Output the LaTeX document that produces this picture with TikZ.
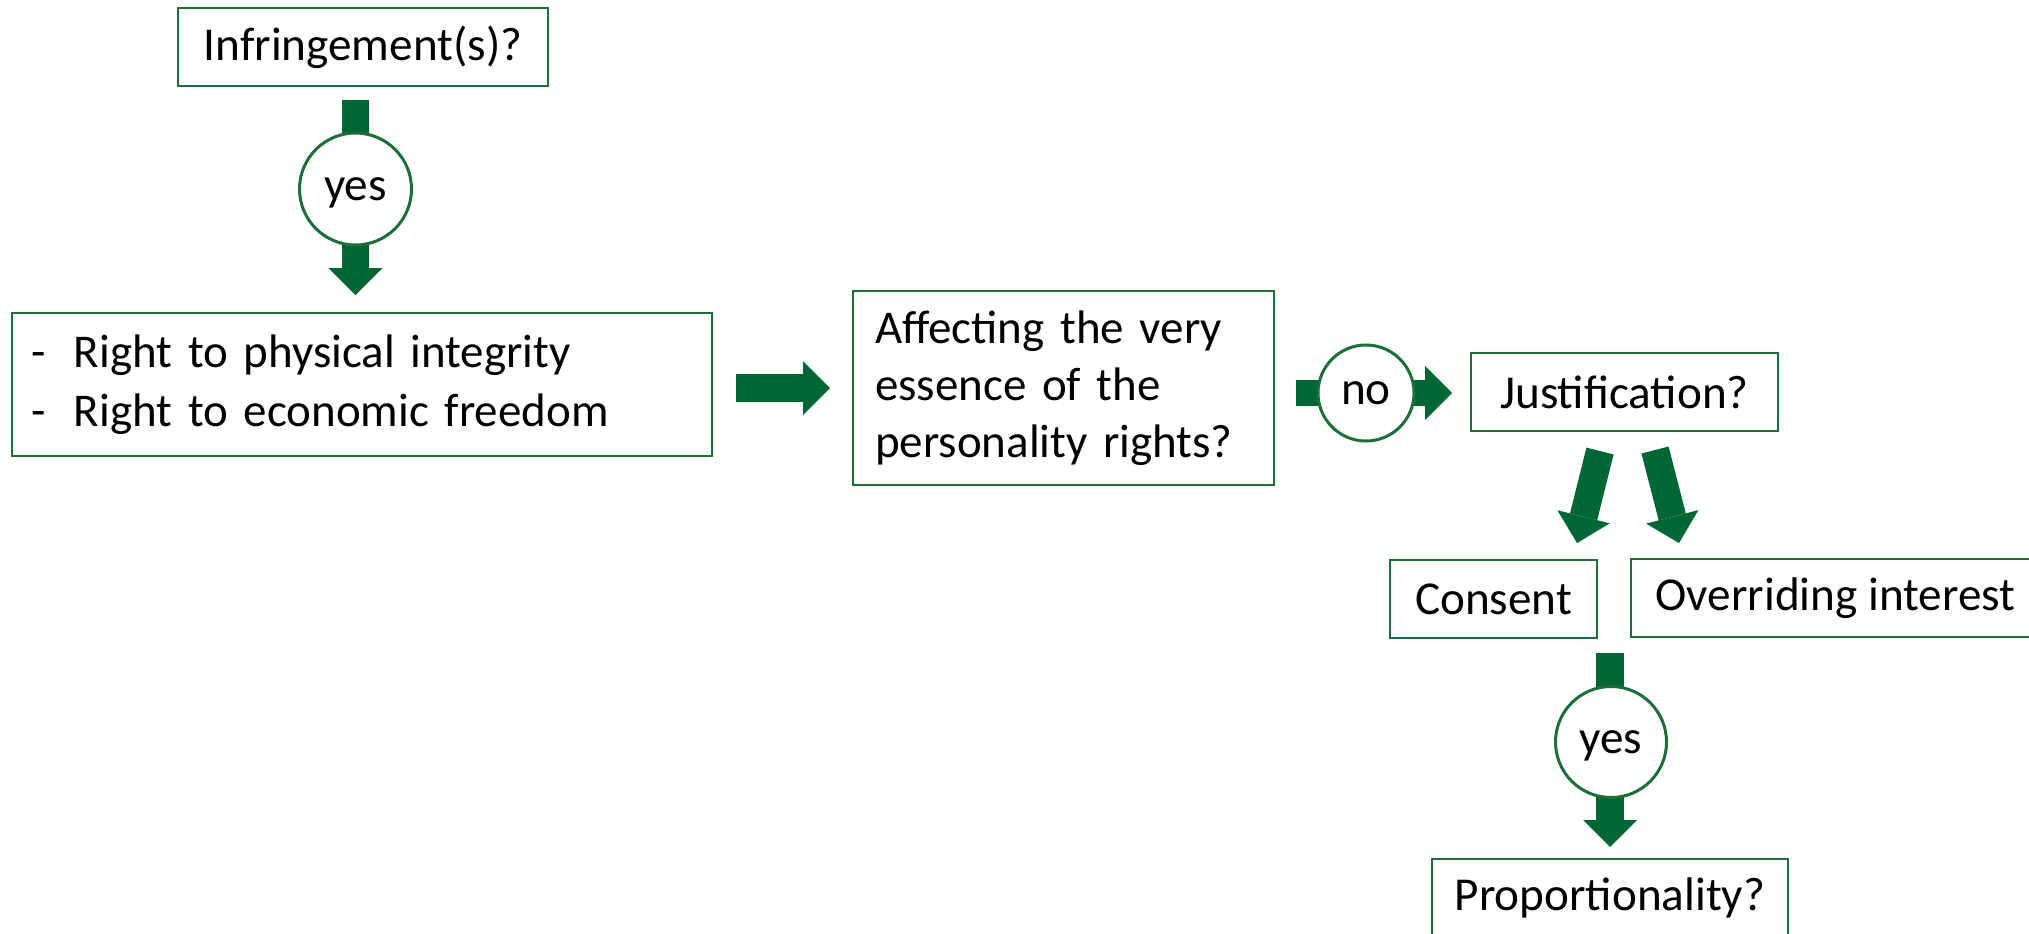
\documentclass[tikz,border=0pt]{standalone}
\usepackage{fontspec}
\setmainfont{Carlito}
\usetikzlibrary{arrows.meta,backgrounds}
\definecolor{arrowgreen}{RGB}{0,102,51}
\definecolor{boxgreen}{RGB}{30,110,58}
\begin{document}
\begin{tikzpicture}[x=0.5pt,y=-0.5pt,
  box/.style={draw=boxgreen,line width=1pt,inner sep=0pt,fill=white,font=\fontsize{23.6}{29}\selectfont},
  ring/.style={circle,draw=boxgreen,line width=1.5pt,fill=white,inner sep=0pt,text depth=0pt,font=\fontsize{23.6}{29}\selectfont},
  blockarrow/.style={draw=arrowgreen,line width=14pt,-{Triangle[length=13.5pt,width=27pt,line width=0pt]}}
]
\useasboundingbox (0,0) rectangle (2029,933);
\clip (0,0) rectangle (2029,933);

% boxes
\node[box,minimum width=185pt,minimum height=39pt] (inf) at (363,47) {Infringement(s)?};
\node[box,minimum width=350pt,minimum height=71.5pt,text width=330pt,align=left,font=\fontsize{23.5}{29.5}\selectfont] (rights) at (362,384.5)
  {\makebox[21pt][l]{-}Right to physical integrity\\\makebox[21pt][l]{-}Right to economic freedom};
\node[box,minimum width=210.5pt,minimum height=97pt,text width=188.5pt,align=left,font=\fontsize{23.5}{28.5}\selectfont] (ess) at (1063.5,388)
  {Affecting the very\\essence of the\\personality rights?};
\node[box,minimum width=153.5pt,minimum height=39pt] (just) at (1624.5,392) {Justification?};
\node[box,minimum width=103.5pt,minimum height=39pt] (consent) at (1493.5,599) {Consent};
\node[box,minimum width=204.5pt,minimum height=39pt] (over) at (1835.5,598) {Overriding interest};
\node[box,minimum width=178pt,minimum height=39pt] (prop) at (1610,898) {Proportionality?};

% circles
\node[ring,minimum size=56pt] (yes1) at (355.5,189) {yes};
\node[ring,minimum size=48pt] (no) at (1366,393) {no};
\node[ring,minimum size=55.5pt] (yes2) at (1611,742) {yes};

\coordinate (d1s) at (1600,451);
\coordinate (d1e) at (1577,543);
\coordinate (d2s) at (1655,450);
\coordinate (d2e) at (1679,543);

\begin{scope}[on background layer]
\draw[blockarrow,line width=13.5pt,shorten <=6.5pt,shorten >=8.5pt] (yes1 |- inf.south) -- (yes1 |- rights.north);
\draw[blockarrow,shorten <=11.5pt,shorten >=11pt] (rights.east |- ess.west) -- (ess.west);
\draw[blockarrow,line width=13pt,shorten <=10.5pt,shorten >=9pt] (ess.east |- no) -- (just.west |- no);
\draw[blockarrow] (d1s) -- (d1e);
\draw[blockarrow] (d2s) -- (d2e);
\draw[blockarrow,shorten <=7pt,shorten >=5.5pt] (prop |- consent.south) -- (prop.north);
\end{scope}
\end{tikzpicture}
\end{document}
